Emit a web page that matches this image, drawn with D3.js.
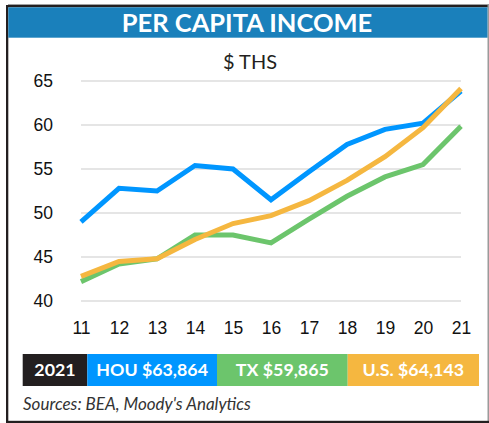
<!DOCTYPE html>
<html>
<head>
<meta charset="utf-8">
<script src="https://cdn.jsdelivr.net/npm/d3@7"></script>
<style>
  body { margin: 0; background: #fff; }
  svg { display: block; }
</style>
</head>
<body>
<svg id="chart" width="489" height="423"></svg>
<script>

// Data ($ thousands)
var years = ["11", "12", "13", "14", "15", "16", "17", "18", "19", "20", "21"];
var hou = [49.0, 52.8, 52.5, 55.4, 55.0, 51.5, 54.7, 57.8, 59.5, 60.2, 63.864];
var tx  = [42.2, 44.2, 44.8, 47.5, 47.5, 46.6, 49.3, 51.9, 54.1, 55.5, 59.865];
var us  = [42.8, 44.5, 44.8, 47.0, 48.8, 49.7, 51.4, 53.7, 56.4, 59.7, 64.143];
var yTicks = [40, 45, 50, 55, 60, 65];
var legendLabels = ["2021", "HOU $63,864", "TX $59,865", "U.S. $64,143"];

var colors = { hou: "#0096ff", tx: "#6cc56c", us: "#f5b740", dark: "#231f20", header: "#1a80bb" };

var svg = d3.select("#chart");

// Frame
svg.append("rect").attr("x", 8).attr("y", 4).attr("width", 481).attr("height", 1).attr("fill", "#a0a0a0");
svg.append("rect").attr("x", 6).attr("y", 5).attr("width", 482).attr("height", 2.3).attr("fill", colors.dark);
svg.append("rect").attr("x", 6).attr("y", 5).attr("width", 2.3).attr("height", 418).attr("fill", colors.dark);
svg.append("rect").attr("x", 487.5).attr("y", 4).attr("width", 1.5).attr("height", 419).attr("fill", "#9a9a9a");
svg.append("rect").attr("x", 6).attr("y", 420.8).attr("width", 483).attr("height", 2.2).attr("fill", colors.dark);

// Header band
svg.append("rect")
    .attr("x", 8.3).attr("y", 7.3).attr("width", 479.2).attr("height", 30.4)
    .attr("fill", colors.header);
svg.append("text")
    .attr("x", 247).attr("y", 32)
    .attr("text-anchor", "middle")
    .attr("font-family", "Lato, 'Open Sans', sans-serif")
    .attr("font-weight", "bold")
    .attr("font-size", "25.5px")
    .attr("fill", "#fff")
    .text("PER CAPITA INCOME");

// Unit label
svg.append("text")
    .attr("x", 250).attr("y", 69)
    .attr("text-anchor", "middle")
    .attr("font-family", "Lato, 'Open Sans', sans-serif")
    .attr("font-size", "20px")
    .attr("fill", colors.dark)
    .text("$ THS");

// Scales
var x = d3.scalePoint().domain(years).range([81, 461]);
var y = d3.scaleLinear().domain([40, 65]).range([301, 81]);

// Gridlines
svg.append("g")
    .selectAll("line")
    .data(yTicks)
    .join("line")
    .attr("x1", 81).attr("x2", 461)
    .attr("y1", function(d) { return y(d); })
    .attr("y2", function(d) { return y(d); })
    .attr("stroke", "#dcdcdc")
    .attr("stroke-width", 1.5);

// Y axis labels
var yAxis = svg.append("g")
    .attr("transform", "translate(53,0)")
    .call(d3.axisLeft(y).tickValues(yTicks).tickSize(0).tickPadding(0));
yAxis.select(".domain").remove();
yAxis.selectAll("text")
    .attr("font-family", "'Liberation Sans', Arial, sans-serif")
    .attr("font-size", "17.5px")
    .attr("fill", "#111");

// X axis labels
var xAxis = svg.append("g")
    .attr("transform", "translate(0,322)")
    .call(d3.axisBottom(x).tickSize(0).tickPadding(0));
xAxis.select(".domain").remove();
xAxis.selectAll("text")
    .attr("font-family", "'Liberation Sans', Arial, sans-serif")
    .attr("font-size", "17.5px")
    .attr("fill", "#111");

// Lines
var line = d3.line()
    .x(function(d, i) { return x(years[i]); })
    .y(function(d) { return y(d); });

[[hou, colors.hou], [tx, colors.tx], [us, colors.us]].forEach(function(s) {
    svg.append("path")
        .datum(s[0])
        .attr("d", line)
        .attr("fill", "none")
        .attr("stroke", s[1])
        .attr("stroke-width", 5)
        .attr("stroke-linejoin", "miter")
        .attr("stroke-linecap", "butt");
});

// Legend bar
var legendEdges = [22.7, 87.3, 217, 347.7, 479];
var legendColors = [colors.dark, colors.hou, colors.tx, colors.us];
var legend = svg.append("g");
legendLabels.forEach(function(label, i) {
    legend.append("rect")
        .attr("x", legendEdges[i]).attr("y", 354)
        .attr("width", legendEdges[i + 1] - legendEdges[i]).attr("height", 32)
        .attr("fill", legendColors[i]);
    legend.append("text")
        .attr("x", (legendEdges[i] + legendEdges[i + 1]) / 2).attr("y", 376)
        .attr("text-anchor", "middle")
        .attr("font-family", "Lato, 'Open Sans', sans-serif")
        .attr("font-weight", "bold")
        .attr("font-size", "17.8px")
        .attr("fill", "#fff")
        .text(label);
});

// Source note
svg.append("text")
    .attr("x", 23).attr("y", 410)
    .attr("font-family", "Lato, 'Open Sans', sans-serif")
    .attr("font-style", "italic")
    .attr("font-size", "17px")
    .attr("fill", "#333")
    .text("Sources: BEA, Moody's Analytics");

</script>
</body>
</html>
